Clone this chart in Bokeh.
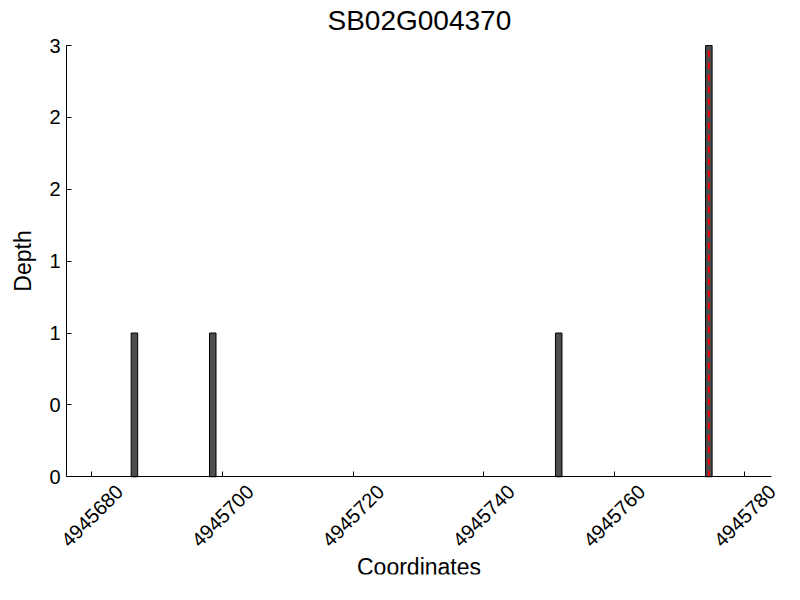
import numpy as np
from bokeh.plotting import figure
from bokeh.models import FixedTicker, Range1d, Label
from bokeh.embed import file_html
from bokeh.resources import INLINE

# Data
coords = [4945686, 4945698, 4945751, 4945774]
depth = [1, 1, 1, 3]
marker_pos = 4945774.5
x_ticks = [4945680, 4945700, 4945720, 4945740, 4945760, 4945780]
x_lim = (4945676.1, 4945784.1)
y_ticks = [0, 0.5, 1, 1.5, 2, 2.5, 3]
y_labels = ["0", "0", "1", "1", "2", "2", "3"]
y_lim = (0, 3)
title = "SB02G004370"

FONT = "Liberation Sans"

# frame extends past the axes so that centred, rotated tick labels are not clipped
p = figure(width=784, height=584, output_backend="svg", toolbar_location=None,
           x_range=Range1d(4945667.21, 4945786.09), y_range=Range1d(-0.68, 3.07),
           min_border_left=8, min_border_right=0, min_border_top=35, min_border_bottom=10)
p.title.text = title
p.title.align = "left"
p.title.offset = 319
p.title.standoff = 0
p.title.text_font = FONT
p.title.text_font_size = "28px"
p.title.text_font_style = "normal"
p.title.text_color = "black"

left = np.array(coords, dtype=float)
p.quad(left=left, right=left + 1, bottom=0, top=depth,
       fill_color="#4d4d4d", line_color="black", line_width=1)

p.segment(x0=[marker_pos], y0=[0], x1=[marker_pos], y1=[max(depth)],
          line_color="red", line_dash="6 6", line_width=2)

p.grid.visible = False
p.outline_line_color = None

p.xaxis.ticker = FixedTicker(ticks=x_ticks)
p.yaxis.ticker = FixedTicker(ticks=y_ticks)
p.yaxis.major_label_overrides = {t: l for t, l in zip(y_ticks, y_labels)}
p.yaxis.bounds = y_lim
p.xaxis.bounds = x_lim
p.xaxis.fixed_location = y_lim[0]
p.yaxis.fixed_location = x_lim[0]

for ax in (p.xaxis, p.yaxis):
    ax.major_tick_in = 5
    ax.major_tick_out = 0
    ax.minor_tick_in = 0
    ax.minor_tick_out = 0
    ax.axis_line_color = "black"
    ax.axis_line_width = 1
    ax.major_tick_line_color = "black"
    ax.major_label_text_font = FONT
    ax.major_label_text_font_size = "20px"
    ax.major_label_text_color = "black"
    ax.axis_label_text_font = FONT
    ax.axis_label_text_font_size = "23px"
    ax.axis_label_text_font_style = "normal"
    ax.axis_label_text_color = "black"

# x tick labels drawn centred and rotated, like the reference
p.xaxis.major_label_text_alpha = 0
p.xaxis.major_label_text_font_size = "1px"
for v in x_ticks:
    p.add_layout(Label(x=v, y=0, text=str(v), angle=np.pi / 4,
                       text_align="center", text_baseline="middle", y_offset=-39,
                       text_font=FONT, text_font_size="20px", text_color="black"))

p.xaxis.axis_label = "Coordinates"
p.yaxis.axis_label = "Depth"
p.xaxis.axis_label_standoff = 77
p.yaxis.axis_label_standoff = 10
p.yaxis.major_label_standoff = 6

open("out.html", "w").write(file_html(p, INLINE))
